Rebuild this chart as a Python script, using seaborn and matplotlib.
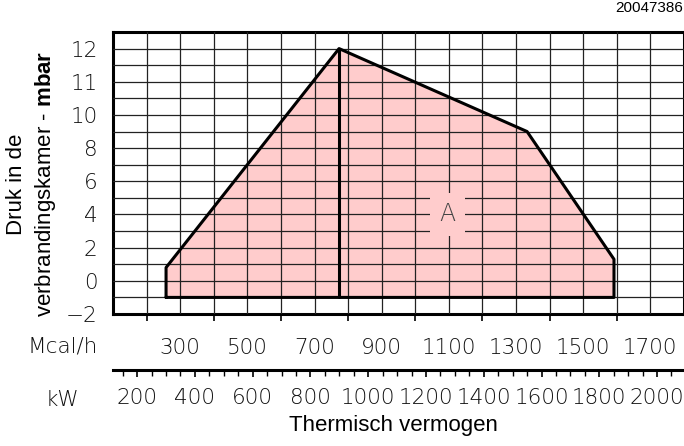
import numpy as np
import pandas as pd
import matplotlib
matplotlib.use("Agg")
import matplotlib.pyplot as plt
import seaborn as sns

# ---- data ----
field_kw = [300, 300, 899, 1550, 1851, 1851, 300]
field_mbar = [-1.0, 0.8, 12.0, 9.0, 1.3, -1.0, -1.0]
split_kw = [899, 899]
split_mbar = [12.0, -1.0]
label_kw = 1275
label_mbar = 4
y_ticks = [-2, 0, 2, 4, 6, 8, 10, 11, 12]
y_labels = ["\u22122", "0", "2", "4", "6", "8", "10", "11", "12"]
y_minor = [-1, 1, 3, 5, 7, 9, 10.5, 11.5]
mcal_labels = [300, 500, 700, 900, 1100, 1300, 1500, 1700]
mcal_even = [200, 400, 600, 800, 1000, 1200, 1400, 1600]
kw_labels = [200, 400, 600, 800, 1000, 1200, 1400, 1600, 1800, 2000]
kw_minor = [150, 250, 300, 350, 450, 500, 550, 650, 700, 750, 850, 900, 950,
            1050, 1100, 1150, 1250, 1300, 1350, 1450, 1500, 1550, 1650, 1700,
            1750, 1850, 1900, 1950, 2050]
KW_PER_MCAL = 1.163
mcal_range = [100, 1800]

sns.set_theme(style="white")
plt.rcParams["font.family"] = ["Liberation Sans", "DejaVu Sans"]
plt.rcParams["mathtext.fontset"] = "custom"
plt.rcParams["mathtext.rm"] = "Liberation Sans"
plt.rcParams["mathtext.bf"] = "Liberation Sans:bold"

thin = dict(family=["DejaVu Sans"], weight="light", size=15.5, color="#111111")

W, H = 684, 446
fig = plt.figure(figsize=(W / 100, H / 100), dpi=100)
ax = fig.add_axes([113 / W, (H - 314) / H, (W - 113) / W, (314 - 32) / H])


def fwd(y):
    y = np.asarray(y, dtype=float)
    return np.where(y <= 10, (y + 2) / 2, 6 + (y - 10))


def inv(p):
    p = np.asarray(p, dtype=float)
    return np.where(p <= 6, 2 * p - 2, p + 4)


ax.set_yscale("function", functions=(fwd, inv))

df = pd.DataFrame({"kW": field_kw, "mbar": field_mbar})
ax.fill(df["kW"], df["mbar"], color="#ffcccc", zorder=1, lw=0)
sns.lineplot(data=df, x="kW", y="mbar", sort=False, estimator=None, color="black",
             lw=2.2, ax=ax, zorder=3)
sns.lineplot(x=split_kw, y=split_mbar, sort=False, estimator=None, color="black",
             lw=2.2, ax=ax, zorder=3)

ax.set_xlim(mcal_range[0] * KW_PER_MCAL, mcal_range[1] * KW_PER_MCAL)
ax.set_ylim(-2, 12.5)

# y ticks
ax.set_yticks(y_ticks)
ax.set_yticklabels(y_labels, fontdict=thin)
ax.set_yticks(y_minor, minor=True)
ax.tick_params(axis="y", which="both", length=0, pad=11)

# x ticks (Mcal/h grid)
ax.set_xticks([v * KW_PER_MCAL for v in mcal_even])
ax.set_xticklabels([])
ax.set_xticks([v * KW_PER_MCAL for v in mcal_labels], minor=True)
ax.set_xticklabels([str(v) for v in mcal_labels], minor=True, fontdict=thin)
ax.tick_params(axis="x", which="major", direction="out", length=5, width=1.2,
               color="black", bottom=True)
ax.tick_params(axis="x", which="minor", length=0, pad=17, bottom=True)

ax.set_axisbelow(False)
ax.grid(which="both", color="#222222", lw=0.9, zorder=2)
for s in ax.spines.values():
    s.set_visible(True)
    s.set_color("black")
    s.set_linewidth(2.2)
ax.set_xlabel("")
ax.set_ylabel("")

ax.text(label_kw, label_mbar, "A", ha="center", va="center", color="#444444", zorder=4,
        fontdict=dict(family=["DejaVu Sans"], weight="light", size=17),
        bbox=dict(facecolor="#ffcccc", edgecolor="none", pad=7))

# kW secondary axis
sec = ax.secondary_xaxis((314 - 370) / (314 - 32), functions=(lambda x: x, lambda x: x))
sec.set_xticks(kw_labels)
sec.set_xticklabels([str(v) for v in kw_labels], fontdict=thin)
sec.set_xticks(kw_minor, minor=True)
sec.tick_params(axis="x", which="major", direction="out", length=5, width=1.2, pad=8, color="black")
sec.tick_params(axis="x", which="minor", direction="out", length=4, width=1.0, color="black")
sec.spines["bottom"].set_linewidth(2.2)
sec.spines["bottom"].set_color("black")

fig.text(98 / W, (H - 346) / H, "Mcal/h", ha="right", va="center", fontdict=thin)
fig.text(62 / W, (H - 400) / H, "kW", ha="center", va="center", fontdict=thin)
fig.text(393 / W, (H - 425) / H, "Thermisch vermogen", ha="center", va="center",
         fontsize=16, color="black")
fig.text(32 / W, (H - 184) / H, "Druk in de\nverbrandingskamer - $\\mathbf{mbar}$",
         ha="center", va="center", rotation=90, fontsize=16, color="black",
         multialignment="center", linespacing=1.35)
fig.text(683 / W, (H - 8) / H, "20047386", ha="right", va="center", fontsize=11,
         color="black")

fig.savefig("out.png", dpi=100)
